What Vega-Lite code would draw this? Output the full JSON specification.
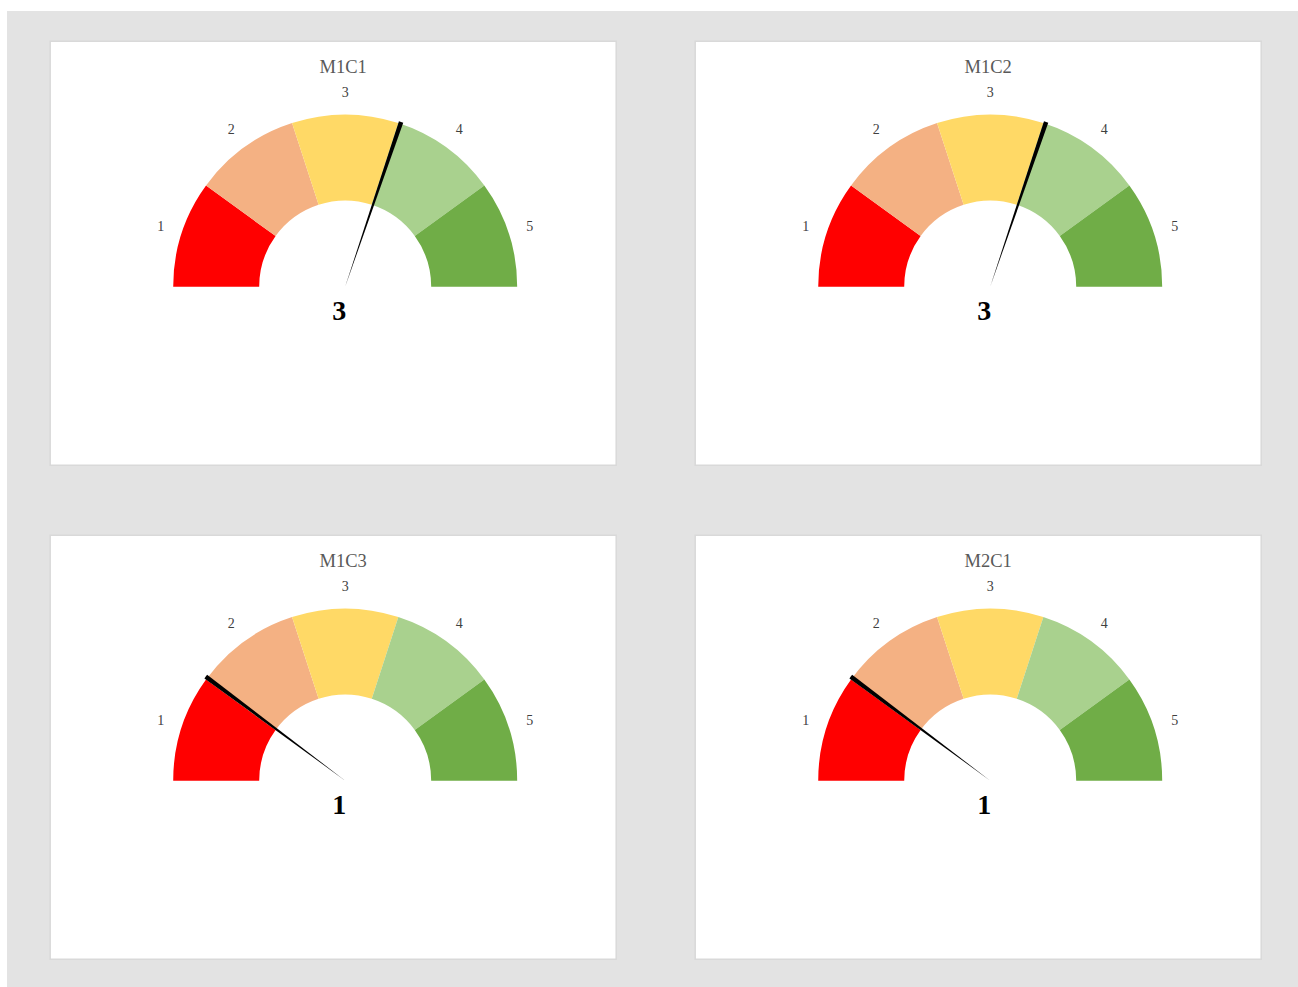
{
  "$schema": "https://vega.github.io/schema/vega-lite/v6.json",
  "width": 1291,
  "height": 976,
  "autosize": "none",
  "padding": {"left": 7, "top": 11, "right": 0, "bottom": 0},
  "background": "#ffffff",
  "config": {"view": {"fill": "#e3e3e3", "stroke": null}},
  "data": {
    "values": [
      {"panel": "M1C1", "row": 0, "col": 0, "value": 3, "seg": [1, 2, 3, 4, 5]},
      {"panel": "M1C2", "row": 0, "col": 1, "value": 3, "seg": [1, 2, 3, 4, 5]},
      {"panel": "M1C3", "row": 1, "col": 0, "value": 1, "seg": [1, 2, 3, 4, 5]},
      {"panel": "M2C1", "row": 1, "col": 1, "value": 1, "seg": [1, 2, 3, 4, 5]}
    ]
  },
  "layer": [
    {
      "mark": {"type": "rect", "fill": "#ffffff", "stroke": "#d9d9d9", "strokeWidth": 1.5},
      "encoding": {
        "x": {"field": "col", "type": "ordinal", "axis": null,
              "scale": {"paddingInner": 0.1225, "paddingOuter": 0.062, "align": 0.54}},
        "y": {"field": "row", "type": "ordinal", "axis": null,
              "scale": {"paddingInner": 0.1417, "paddingOuter": 0.0587, "align": 0.52}}
      }
    },
    {
      "transform": [{"flatten": ["seg"]}],
      "mark": {"type": "arc", "outerRadius": 172, "innerRadius": 86, "thetaOffset": -0.62832, "xOffset": 12, "yOffset": 33.5},
      "encoding": {
        "x": {"field": "col", "type": "ordinal", "bandPosition": 0.5, "axis": null},
        "y": {"field": "row", "type": "ordinal", "bandPosition": 0.5, "axis": null},
        "theta": {"field": "seg", "type": "quantitative", "stack": null,
                  "scale": {"domain": [0, 5], "range": [-1.5708, 1.5708]}},
        "theta2": {"field": "seg"},
        "color": {"field": "seg", "type": "ordinal", "legend": null,
                  "scale": {"domain": [1, 2, 3, 4, 5], "range": ["#ff0000", "#f4b183", "#ffd966", "#a9d18e", "#70ad47"]}}
      }
    },
    {
      "transform": [{"flatten": ["seg"]}],
      "mark": {"type": "text", "radius": 194, "thetaOffset": -0.31416, "xOffset": 12, "yOffset": 33.5,
               "font": "Liberation Serif", "fontSize": 14, "fill": "#404040", "align": "center", "baseline": "middle"},
      "encoding": {
        "x": {"field": "col", "type": "ordinal", "bandPosition": 0.5, "axis": null},
        "y": {"field": "row", "type": "ordinal", "bandPosition": 0.5, "axis": null},
        "theta": {"field": "seg", "type": "quantitative", "stack": null,
                  "scale": {"domain": [0, 5], "range": [-1.5708, 1.5708]}},
        "text": {"field": "seg", "type": "ordinal"}
      }
    },
    {
      "mark": {"type": "arc", "outerRadius": 174, "innerRadius": 0, "theta2Offset": 0.026, "xOffset": 12, "yOffset": 33.5, "fill": "#000000"},
      "encoding": {
        "x": {"field": "col", "type": "ordinal", "bandPosition": 0.5, "axis": null},
        "y": {"field": "row", "type": "ordinal", "bandPosition": 0.5, "axis": null},
        "theta": {"field": "value", "type": "quantitative", "stack": null,
                  "scale": {"domain": [0, 5], "range": [-1.5708, 1.5708]}},
        "theta2": {"field": "value"}
      }
    },
    {
      "mark": {"type": "text", "xOffset": 10, "yOffset": -186, "font": "Liberation Serif", "fontSize": 18.5,
               "fill": "#595959", "align": "center", "baseline": "middle"},
      "encoding": {
        "x": {"field": "col", "type": "ordinal", "bandPosition": 0.5, "axis": null},
        "y": {"field": "row", "type": "ordinal", "bandPosition": 0.5, "axis": null},
        "text": {"field": "panel", "type": "nominal"}
      }
    },
    {
      "mark": {"type": "text", "xOffset": 6, "yOffset": 59, "font": "Liberation Serif", "fontSize": 28,
               "fontWeight": "bold", "fill": "#000000", "align": "center", "baseline": "middle"},
      "encoding": {
        "x": {"field": "col", "type": "ordinal", "bandPosition": 0.5, "axis": null},
        "y": {"field": "row", "type": "ordinal", "bandPosition": 0.5, "axis": null},
        "text": {"field": "value", "type": "quantitative"}
      }
    }
  ]
}
